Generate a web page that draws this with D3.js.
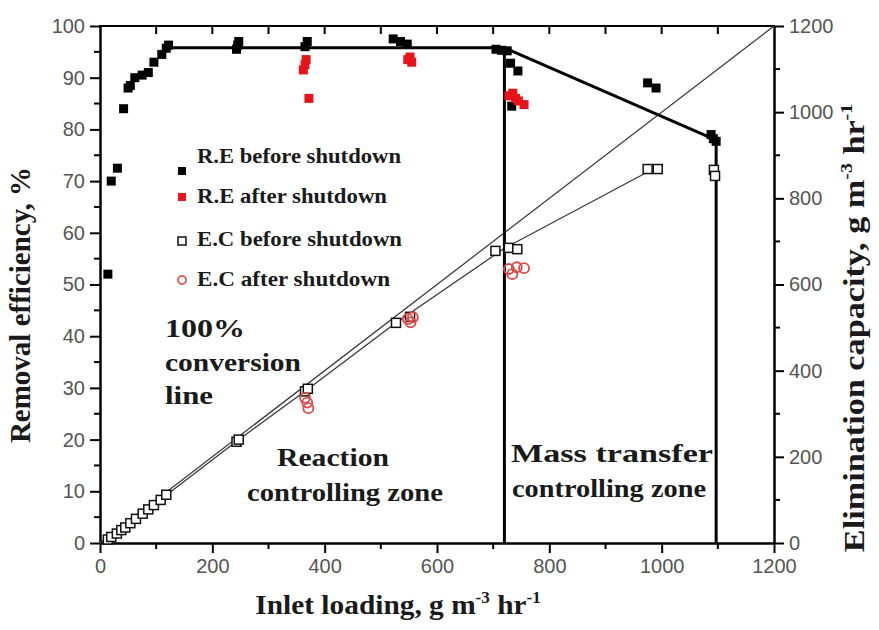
<!doctype html>
<html lang="en">
<head>
  <meta charset="UTF-8" />
  <script src="https://cdn.jsdelivr.net/npm/d3@7"></script>
  <style>
    body { margin: 0; background: white; }
    .tick-label { font-family: "Liberation Sans", Arial, sans-serif; font-size: 20px; fill: #555; }
    .serif { font-family: "Liberation Serif", "Times New Roman", serif; font-weight: bold; fill: #1a1a1a; }
  </style>
  <title>Removal efficiency vs inlet loading</title>
</head>
<body>
  <script>
    // removal efficiency before shutdown [inlet loading, RE %]
    var reBefore = [
      [14, 52], [20, 70], [31, 72.5], [42, 84], [50, 88], [54, 88.5], [62, 90],
      [75, 90.5], [86, 91], [96, 93], [110, 94.5], [118, 95.7], [122, 96.3],
      [243, 95.5], [245, 96.3], [247, 97],
      [365, 96], [369, 97],
      [522, 97.5], [535, 97], [547, 96.5],
      [705, 95.5], [715, 95.3], [725, 95.2], [731, 92.8], [733, 84.5], [744, 91.3],
      [975, 89], [990, 88],
      [1088, 79], [1092, 78.2], [1097, 77.7]
    ];
    // removal efficiency after shutdown
    var reAfter = [
      [362, 91.5], [365, 92.5], [367, 93.5], [372, 86],
      [548, 93.5], [552, 94], [555, 93],
      [728, 86.5], [735, 87], [740, 86], [745, 85.5], [755, 84.8]
    ];
    // elimination capacity before shutdown [inlet loading, EC]
    var ecBefore = [
      [14, 8], [20, 14], [30, 22], [38, 30], [45, 36], [54, 46], [64, 56],
      [76, 68], [86, 78], [96, 88], [108, 100], [118, 112],
      [243, 235], [247, 240],
      [365, 352], [370, 358],
      [527, 511], [552, 525],
      [704, 678], [728, 685], [743, 682],
      [975, 868], [993, 868],
      [1093, 866], [1095, 852]
    ];
    // elimination capacity after shutdown
    var ecAfter = [
      [365, 337], [369, 326], [371, 313],
      [548, 520], [553, 512], [557, 524],
      [728, 636], [734, 624], [742, 640], [755, 638]
    ];
    // trend lines
    var reTrend = [[120, 95.8], [720, 95.8], [1095, 78]];
    var ecTrend = [[0, 0], [120, 113], [245, 238], [368, 355], [527, 511], [720, 684], [985, 868]];
    var fullConversion = [[0, 0], [1200, 1200]];
    var zoneEdges = [[720, 95.6], [1097, 78]];

    var xTicks = [0, 200, 400, 600, 800, 1000, 1200];
    var yTicks = [0, 10, 20, 30, 40, 50, 60, 70, 80, 90, 100];
    var y2Ticks = [0, 200, 400, 600, 800, 1000, 1200];

    var legendItems = [
      { label: "R.E before shutdown", kind: "reBefore", width: 204 },
      { label: "R.E after shutdown", kind: "reAfter", width: 190 },
      { label: "E.C before shutdown", kind: "ecBefore", width: 205 },
      { label: "E.C after shutdown", kind: "ecAfter", width: 193 }
    ];

    (function () {
      var W = 879, H = 630;
      var pl = 100, pr = 774, pt = 26, pb = 543;

      var svg = d3.select("body").append("svg")
        .attr("width", W).attr("height", H);

      var x = d3.scaleLinear().domain([0, 1200]).range([pl, pr]);
      var y = d3.scaleLinear().domain([0, 100]).range([pb, pt]);
      var y2 = d3.scaleLinear().domain([0, 1200]).range([pb, pt]);
      var fmt = d3.format("d");

      // axes
      var xAxis = d3.axisBottom(x).tickValues(xTicks).tickFormat(fmt).tickSize(10).tickSizeOuter(0).tickPadding(6);
      var gx = svg.append("g").attr("transform", "translate(0," + pb + ")").call(xAxis);
      gx.append("g").selectAll("line").data(d3.range(100, 1200, 200)).enter().append("line")
        .attr("x1", x).attr("x2", x).attr("y1", 0).attr("y2", 6).attr("stroke", "#000").attr("stroke-width", 2);

      var yAxis = d3.axisLeft(y).tickValues(yTicks).tickFormat(fmt).tickSize(10).tickSizeOuter(0).tickPadding(5);
      var gy = svg.append("g").attr("transform", "translate(" + pl + ",0)").call(yAxis);
      gy.append("g").selectAll("line").data(d3.range(5, 100, 10)).enter().append("line")
        .attr("y1", y).attr("y2", y).attr("x1", 0).attr("x2", -6).attr("stroke", "#000").attr("stroke-width", 2);

      var y2Axis = d3.axisRight(y2).tickValues(y2Ticks).tickFormat(fmt).tickSize(10).tickSizeOuter(0).tickPadding(5);
      var gy2 = svg.append("g").attr("transform", "translate(" + pr + ",0)").call(y2Axis);
      gy2.append("g").selectAll("line").data(d3.range(100, 1200, 200)).enter().append("line")
        .attr("y1", y2).attr("y2", y2).attr("x1", 0).attr("x2", 6).attr("stroke", "#000").attr("stroke-width", 2);

      // top frame with inward ticks
      var gt = svg.append("g");
      gt.append("line").attr("x1", pl - 1).attr("x2", pr + 1).attr("y1", pt).attr("y2", pt)
        .attr("stroke", "#000").attr("stroke-width", 2);
      gt.selectAll("line.t").data(d3.range(100, 1200, 100)).enter().append("line")
        .attr("class", "t")
        .attr("x1", x).attr("x2", x).attr("y1", pt).attr("y2", pt + 8)
        .attr("stroke", "#000").attr("stroke-width", 2);

      [gx, gy, gy2].forEach(function (g) {
        g.select(".domain").attr("stroke", "#000").attr("stroke-width", 2.5);
        g.selectAll(".tick line").attr("stroke", "#000").attr("stroke-width", 2);
        g.selectAll(".tick text").attr("class", "tick-label").attr("fill", null);
      });

      // lines
      var lineRE = d3.line().x(function (d) { return x(d[0]); }).y(function (d) { return y(d[1]); });
      var lineEC = d3.line().x(function (d) { return x(d[0]); }).y(function (d) { return y2(d[1]); });

      svg.append("path").attr("d", lineEC(fullConversion))
        .attr("fill", "none").attr("stroke", "#333").attr("stroke-width", 1.2);
      svg.append("path").attr("d", lineEC(ecTrend))
        .attr("fill", "none").attr("stroke", "#333").attr("stroke-width", 1.2);

      svg.append("g").selectAll("line").data(zoneEdges).enter().append("line")
        .attr("x1", function (d) { return x(d[0]); }).attr("x2", function (d) { return x(d[0]); })
        .attr("y1", function (d) { return y(d[1]); }).attr("y2", pb)
        .attr("stroke", "#000").attr("stroke-width", 3);
      svg.append("path").attr("d", lineRE(reTrend))
        .attr("fill", "none").attr("stroke", "#000").attr("stroke-width", 3);

      // markers
      var s = 9;
      svg.append("g").selectAll("rect").data(ecBefore).enter().append("rect")
        .attr("x", function (d) { return x(d[0]) - s / 2; })
        .attr("y", function (d) { return y2(d[1]) - s / 2; })
        .attr("width", s).attr("height", s)
        .attr("fill", "white").attr("stroke", "#111").attr("stroke-width", 1.5);
      svg.append("g").selectAll("circle").data(ecAfter).enter().append("circle")
        .attr("cx", function (d) { return x(d[0]); })
        .attr("cy", function (d) { return y2(d[1]); })
        .attr("r", 5)
        .attr("fill", "none").attr("stroke", "#e04848").attr("stroke-width", 1.8);
      svg.append("g").selectAll("rect").data(reBefore).enter().append("rect")
        .attr("x", function (d) { return x(d[0]) - s / 2; })
        .attr("y", function (d) { return y(d[1]) - s / 2; })
        .attr("width", s).attr("height", s).attr("fill", "#000");
      svg.append("g").selectAll("rect").data(reAfter).enter().append("rect")
        .attr("x", function (d) { return x(d[0]) - s / 2; })
        .attr("y", function (d) { return y(d[1]) - s / 2; })
        .attr("width", s).attr("height", s).attr("fill", "#e8141c");

      // legend
      var lg = svg.append("g");
      var rowY = [163, 203, 246, 286];
      var markY = [171, 197, 241, 280];
      legendItems.forEach(function (item, i) {
        lg.append("text").attr("class", "serif")
          .attr("x", 197).attr("y", rowY[i])
          .attr("font-size", 21)
          .attr("textLength", item.width).attr("lengthAdjust", "spacingAndGlyphs")
          .text(item.label);
        var mx = 182, my = markY[i];
        if (item.kind === "reBefore") {
          lg.append("rect").attr("x", mx - 4).attr("y", my - 4).attr("width", 8).attr("height", 8).attr("fill", "#000");
        } else if (item.kind === "reAfter") {
          lg.append("rect").attr("x", mx - 4).attr("y", my - 4).attr("width", 8).attr("height", 8).attr("fill", "#e8141c");
        } else if (item.kind === "ecBefore") {
          lg.append("rect").attr("x", mx - 4).attr("y", my - 4).attr("width", 8).attr("height", 8)
            .attr("fill", "white").attr("stroke", "#111").attr("stroke-width", 1.5);
        } else {
          lg.append("circle").attr("cx", mx).attr("cy", my).attr("r", 4)
            .attr("fill", "none").attr("stroke", "#e06060").attr("stroke-width", 2);
        }
      });

      // annotations
      var notes = [
        { t: "100%", x: 165, y: 337, w: 80 },
        { t: "conversion", x: 165, y: 371, w: 136 },
        { t: "line", x: 165, y: 404, w: 48 },
        { t: "Reaction", x: 277, y: 466, w: 112 },
        { t: "controlling zone", x: 247, y: 501, w: 196 },
        { t: "Mass transfer", x: 511, y: 462, w: 202 },
        { t: "controlling zone", x: 512, y: 497, w: 194 }
      ];
      svg.append("g").selectAll("text").data(notes).enter().append("text")
        .attr("class", "serif").attr("font-size", 25)
        .attr("x", function (d) { return d.x; }).attr("y", function (d) { return d.y; })
        .attr("textLength", function (d) { return d.w; }).attr("lengthAdjust", "spacingAndGlyphs")
        .text(function (d) { return d.t; });

      // axis titles
      function unitTitle(g, label, size) {
        var t = g.append("text").attr("class", "serif").attr("font-size", size).attr("text-anchor", "middle");
        t.append("tspan").text(label + ", g m");
        t.append("tspan").attr("font-size", size * 0.58).attr("dy", -size * 0.4).text("-3");
        t.append("tspan").attr("dy", size * 0.4).text(" hr");
        t.append("tspan").attr("font-size", size * 0.58).attr("dy", -size * 0.4).text("-1");
        return t;
      }
      unitTitle(svg.append("g").attr("transform", "translate(398,614) scale(1.05,1)"), "Inlet loading", 28);
      unitTitle(svg.append("g").attr("transform", "translate(864,328) rotate(-90) scale(1.18,1)"), "Elimination capacity", 29);
      svg.append("text").attr("class", "serif").attr("font-size", 29).attr("text-anchor", "middle")
        .attr("transform", "translate(30,305) rotate(-90)")
        .text("Removal efficiency, %");
    })();
  </script>
</body>
</html>
